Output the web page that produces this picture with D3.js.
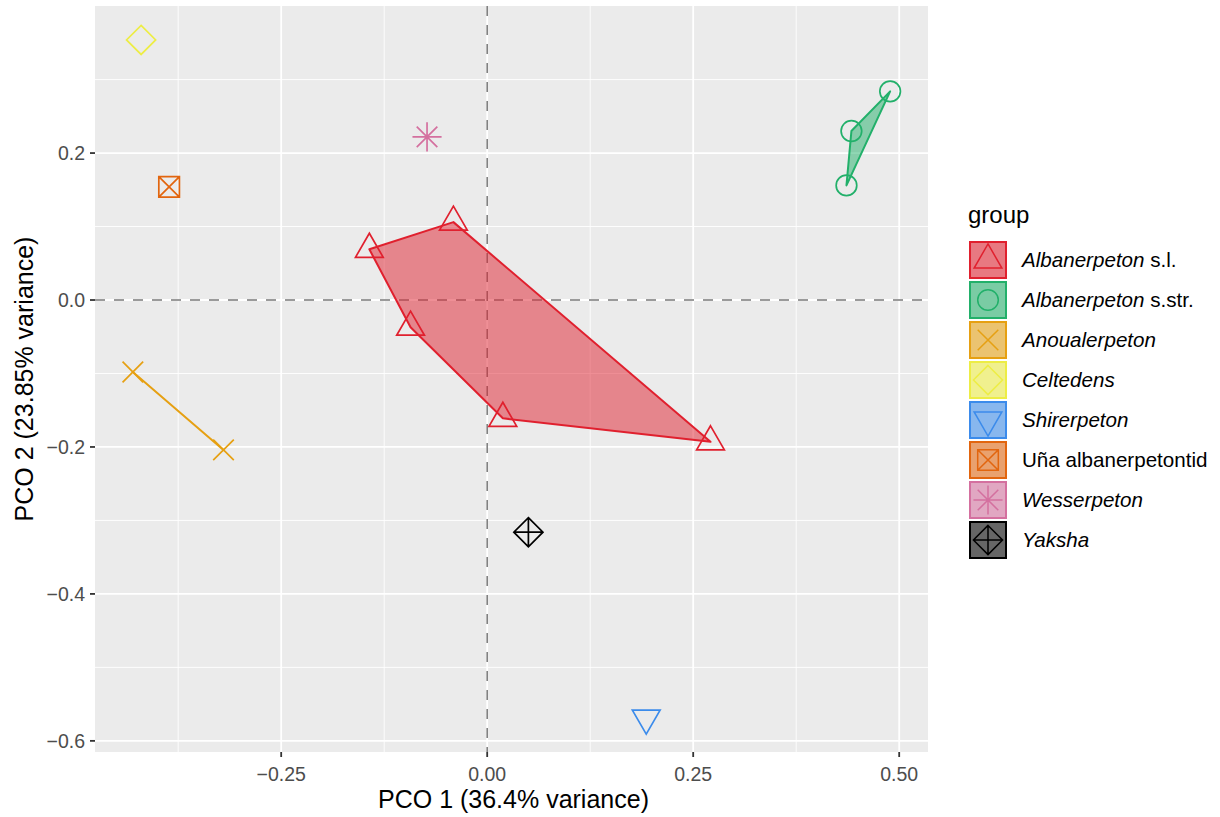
<!DOCTYPE html>
<html>
<head>
<meta charset="utf-8">
<script src="https://cdn.jsdelivr.net/npm/d3@7"></script>
<style>
  body { margin: 0; background: #fff; }
  svg { display: block; font-family: "Liberation Sans", Arial, sans-serif; }
</style>
</head>
<body>
<svg id="chart" width="1220" height="817"></svg>
<script>
// groups, in legend order
var groups = ['Albanerpeton s.l.', 'Albanerpeton s.str.', 'Anoualerpeton', 'Celtedens',
              'Shirerpeton', 'Uña albanerpetontid', 'Wesserpeton', 'Yaksha'];
var groupItalic = ['Albanerpeton', 'Albanerpeton', 'Anoualerpeton', 'Celtedens',
                   'Shirerpeton', '', 'Wesserpeton', 'Yaksha'];
var groupColors = ['#E0202E', '#22B06A', '#E6A012', '#EDED45',
                   '#3B8BEB', '#E2650E', '#D4709F', '#000000'];
var groupShapes = ['triUp', 'circle', 'cross', 'diamond',
                   'triDown', 'squareX', 'asterisk', 'diamondPlus'];

// specimen scores
var pointGroup = [0, 0, 0, 0, 0, 1, 1, 1, 2, 2, 3, 4, 5, 6, 7];
var pco1 = [-0.143, -0.041, -0.093, 0.019, 0.271,
            0.489, 0.442, 0.436,
            -0.430, -0.320,
            -0.420, 0.193, -0.386, -0.073, 0.050];
var pco2 = [0.069, 0.106, -0.037, -0.161, -0.193,
            0.284, 0.230, 0.156,
            -0.098, -0.204,
            0.354, -0.569, 0.154, 0.222, -0.316];

var xTicks = [-0.25, 0, 0.25, 0.5];
var xTickLabels = ['\u22120.25', '0.00', '0.25', '0.50'];
var yTicks = [-0.6, -0.4, -0.2, 0, 0.2];
var yTickLabels = ['\u22120.6', '\u22120.4', '\u22120.2', '0.0', '0.2'];

var svg = d3.select('#chart');
var panelLeft = 95, panelTop = 6, panelW = 833, panelH = 746;
var R0 = 10.3;  // base symbol radius

function expand(ext) {
  var d = (ext[1] - ext[0]) * 0.05;
  return [ext[0] - d, ext[1] + d];
}
var x = d3.scaleLinear().domain(expand(d3.extent(pco1))).range([panelLeft, panelLeft + panelW]);
var y = d3.scaleLinear().domain(expand(d3.extent(pco2))).range([panelTop + panelH, panelTop]);

function shapePath(kind, r) {
  var s2 = Math.SQRT2 * r, p = d3.path();
  if (kind == 'triUp' || kind == 'triDown') {
    var t = 1.555 * r, xc = 1.347 * r, yc = 0.778 * r, k = kind == 'triUp' ? 1 : -1;
    p.moveTo(0, -k * t); p.lineTo(xc, k * yc); p.lineTo(-xc, k * yc); p.closePath();
  } else if (kind == 'circle') {
    p.arc(0, 0, r, 0, 2 * Math.PI);
  } else if (kind == 'cross') {
    p.moveTo(-r, -r); p.lineTo(r, r); p.moveTo(-r, r); p.lineTo(r, -r);
  } else if (kind == 'diamond' || kind == 'diamondPlus') {
    p.moveTo(0, -s2); p.lineTo(s2, 0); p.lineTo(0, s2); p.lineTo(-s2, 0); p.closePath();
    if (kind == 'diamondPlus') {
      p.moveTo(-s2, 0); p.lineTo(s2, 0); p.moveTo(0, -s2); p.lineTo(0, s2);
    }
  } else if (kind == 'squareX') {
    p.rect(-r, -r, 2 * r, 2 * r);
    p.moveTo(-r, -r); p.lineTo(r, r); p.moveTo(-r, r); p.lineTo(r, -r);
  } else if (kind == 'asterisk') {
    p.moveTo(-r, -r); p.lineTo(r, r); p.moveTo(-r, r); p.lineTo(r, -r);
    p.moveTo(-s2, 0); p.lineTo(s2, 0); p.moveTo(0, -s2); p.lineTo(0, s2);
  }
  return p.toString();
}

// panel
svg.append('rect')
    .attr('x', panelLeft).attr('y', panelTop).attr('width', panelW).attr('height', panelH)
    .attr('fill', '#EBEBEB');

var minorX = [-0.375, -0.125, 0.125, 0.375];
var minorY = [-0.5, -0.3, -0.1, 0.1, 0.3];
var grid = svg.append('g');
function vLines(vals, w) {
  grid.selectAll(null).data(vals).enter().append('line')
      .attr('x1', function(d) { return x(d); }).attr('x2', function(d) { return x(d); })
      .attr('y1', panelTop).attr('y2', panelTop + panelH)
      .attr('stroke', '#fff').attr('stroke-width', w);
}
function hLines(vals, w) {
  grid.selectAll(null).data(vals).enter().append('line')
      .attr('y1', function(d) { return y(d); }).attr('y2', function(d) { return y(d); })
      .attr('x1', panelLeft).attr('x2', panelLeft + panelW)
      .attr('stroke', '#fff').attr('stroke-width', w);
}
vLines(minorX, 0.9); hLines(minorY, 0.9);
vLines(xTicks, 1.8); hLines(yTicks, 1.8);

// zero reference lines
svg.append('line')
    .attr('x1', x(0)).attr('x2', x(0)).attr('y1', panelTop).attr('y2', panelTop + panelH)
    .attr('stroke', '#7a7a7a').attr('stroke-width', 1.5).attr('stroke-dasharray', '10,9');
svg.append('line')
    .attr('y1', y(0)).attr('y2', y(0)).attr('x1', panelLeft).attr('x2', panelLeft + panelW)
    .attr('stroke', '#7a7a7a').attr('stroke-width', 1.5).attr('stroke-dasharray', '10,9');

// points
var idx = d3.range(pco1.length);
svg.append('g').selectAll('path').data(idx).enter().append('path')
    .attr('transform', function(i) { return 'translate(' + x(pco1[i]) + ',' + y(pco2[i]) + ')'; })
    .attr('d', function(i) { return shapePath(groupShapes[pointGroup[i]], R0); })
    .attr('fill', 'none')
    .attr('stroke', function(i) { return groupColors[pointGroup[i]]; })
    .attr('stroke-width', 1.7);

// convex hulls
var hulls = svg.append('g');
groups.forEach(function(g, gi) {
  var pts = idx.filter(function(i) { return pointGroup[i] == gi; })
      .map(function(i) { return [x(pco1[i]), y(pco2[i])]; });
  if (pts.length < 2) return;
  var hull = pts.length > 2 ? d3.polygonHull(pts) : pts;
  hulls.append('path')
      .attr('d', 'M' + hull.join('L') + 'Z')
      .attr('fill', groupColors[gi]).attr('fill-opacity', 0.5)
      .attr('stroke', groupColors[gi]).attr('stroke-width', 2)
      .attr('stroke-linejoin', 'round');
});

// axes
var xAxis = svg.append('g');
xAxis.selectAll('line').data(xTicks).enter().append('line')
    .attr('x1', function(d) { return x(d); }).attr('x2', function(d) { return x(d); })
    .attr('y1', panelTop + panelH).attr('y2', panelTop + panelH + 5)
    .attr('stroke', '#333').attr('stroke-width', 1.8);
xAxis.selectAll('text').data(xTicks).enter().append('text')
    .attr('x', function(d) { return x(d); }).attr('y', panelTop + panelH + 29)
    .attr('text-anchor', 'middle').attr('font-size', 19.5).attr('fill', '#4D4D4D')
    .text(function(d, i) { return xTickLabels[i]; });

var yAxis = svg.append('g');
yAxis.selectAll('line').data(yTicks).enter().append('line')
    .attr('y1', function(d) { return y(d); }).attr('y2', function(d) { return y(d); })
    .attr('x1', panelLeft - 5).attr('x2', panelLeft)
    .attr('stroke', '#333').attr('stroke-width', 1.8);
yAxis.selectAll('text').data(yTicks).enter().append('text')
    .attr('x', panelLeft - 10).attr('y', function(d) { return y(d) + 7; })
    .attr('text-anchor', 'end').attr('font-size', 19.5).attr('fill', '#4D4D4D')
    .text(function(d, i) { return yTickLabels[i]; });

svg.append('text')
    .attr('x', panelLeft + panelW / 2 + 2).attr('y', 808)
    .attr('text-anchor', 'middle').attr('font-size', 25).attr('fill', '#000')
    .text('PCO 1 (36.4% variance)');
svg.append('text')
    .attr('transform', 'translate(33,' + (panelTop + panelH / 2) + ') rotate(-90)')
    .attr('text-anchor', 'middle').attr('font-size', 25).attr('fill', '#000')
    .text('PCO 2 (23.85% variance)');

// legend
var legend = svg.append('g');
legend.append('text')
    .attr('x', 968).attr('y', 223).attr('font-size', 24).attr('fill', '#000')
    .text('group');
var key = legend.selectAll('g.key').data(groups).enter().append('g')
    .attr('transform', function(d, i) { return 'translate(969,' + (241 + i * 40) + ')'; });
key.append('rect')
    .attr('x', 0).attr('y', 0).attr('width', 38).attr('height', 38)
    .attr('fill', '#F2F2F2');
key.append('rect')
    .attr('x', 1).attr('y', 1).attr('width', 36).attr('height', 36)
    .attr('fill', function(d, i) { return groupColors[i]; }).attr('fill-opacity', 0.58)
    .attr('stroke', function(d, i) { return groupColors[i]; }).attr('stroke-width', 2);
key.append('path')
    .attr('transform', 'translate(19,19)')
    .attr('d', function(d, i) { return shapePath(groupShapes[i], R0); })
    .attr('fill', 'none')
    .attr('stroke', function(d, i) { return groupColors[i]; })
    .attr('stroke-width', 1.5);
var lab = key.append('text')
    .attr('x', 53).attr('y', 26).attr('font-size', 20.6).attr('fill', '#000');
lab.append('tspan')
    .attr('font-style', 'italic')
    .text(function(d, i) { return groupItalic[i]; });
lab.append('tspan')
    .text(function(d, i) { return d.slice(groupItalic[i].length); });
</script>
</body>
</html>
